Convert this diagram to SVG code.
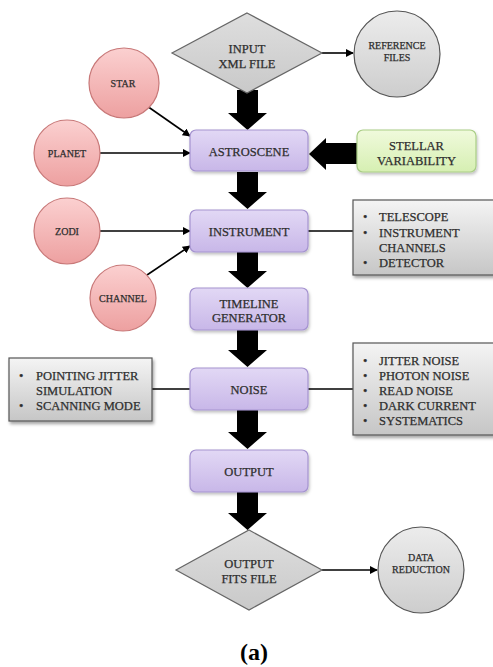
<svg xmlns="http://www.w3.org/2000/svg" width="493" height="667" viewBox="0 0 493 667">
<style>
  .t { font-family: "Liberation Serif", "Times New Roman", serif; fill: #2e2e2e; stroke: #2e2e2e; stroke-width: 0.25; font-size: 12.5px; text-anchor: middle; }
  .s { font-size: 10px; }
  .l { text-anchor: start; }
  .box { fill: url(#gPurple); stroke: #a593d0; stroke-width: 1.2; filter: url(#sh); }
  .red { fill: url(#gRed); stroke: #c87878; stroke-width: 1.2; }
  .gc { fill: url(#gGrayC); stroke: #555; stroke-width: 1.2; }
  .gb { fill: url(#gGrayB); stroke: #555; stroke-width: 1.2; filter: url(#sh2); }
  .dia { fill: url(#gDia); stroke: #666; stroke-width: 1.2; }
  .big { fill: #000; }
  .thin { stroke: #000; stroke-width: 1.6; fill: none; }
  .arr { marker-end: url(#ah); }
</style>
<defs>
  <linearGradient id="gPurple" x1="0" y1="0" x2="0" y2="1">
    <stop offset="0" stop-color="#e2d8f5"/><stop offset="1" stop-color="#c8b7e8"/>
  </linearGradient>
  <linearGradient id="gRed" x1="0" y1="0" x2="0" y2="1">
    <stop offset="0" stop-color="#fbd0d0"/><stop offset="1" stop-color="#eda0a0"/>
  </linearGradient>
  <linearGradient id="gGrayC" x1="0" y1="0" x2="0" y2="1">
    <stop offset="0" stop-color="#ececec"/><stop offset="1" stop-color="#cdcdcd"/>
  </linearGradient>
  <linearGradient id="gGrayB" x1="0" y1="0" x2="0" y2="1">
    <stop offset="0" stop-color="#f4f4f4"/><stop offset="1" stop-color="#c6c6c6"/>
  </linearGradient>
  <linearGradient id="gDia" x1="0" y1="0" x2="0" y2="1">
    <stop offset="0" stop-color="#dedede"/><stop offset="1" stop-color="#c9c9c9"/>
  </linearGradient>
  <linearGradient id="gGreen" x1="0" y1="0" x2="0" y2="1">
    <stop offset="0" stop-color="#f0fadc"/><stop offset="1" stop-color="#d6efb2"/>
  </linearGradient>
  <filter id="sh" x="-10%" y="-20%" width="130%" height="150%">
    <feDropShadow dx="1" dy="2" stdDeviation="1.5" flood-color="#000" flood-opacity="0.25"/>
  </filter>
  <filter id="sh2" x="-10%" y="-20%" width="130%" height="150%">
    <feDropShadow dx="1.5" dy="2.5" stdDeviation="1.5" flood-color="#000" flood-opacity="0.35"/>
  </filter>
  <marker id="ah" viewBox="0 0 10 10" refX="9" refY="5" markerWidth="5" markerHeight="5" orient="auto" markerUnits="strokeWidth">
    <path d="M0,0 L10,5 L0,10 z" fill="#000"/>
  </marker>
</defs>
<rect width="493" height="667" fill="#fff"/>

<g id="connectors">
  <line class="thin arr" x1="322" y1="53" x2="353" y2="53"/>
  <line class="thin arr" x1="147" y1="106" x2="190" y2="136"/>
  <line class="thin arr" x1="100" y1="153" x2="190" y2="153"/>
  <line class="thin arr" x1="100" y1="231" x2="190" y2="231"/>
  <line class="thin arr" x1="147" y1="275" x2="190" y2="246"/>
  <line class="thin" x1="308" y1="231" x2="353" y2="231"/>
  <line class="thin" x1="152" y1="389" x2="190" y2="389"/>
  <line class="thin" x1="308" y1="389" x2="353" y2="389"/>
  <line class="thin arr" x1="322" y1="570" x2="377" y2="570"/>
  <polygon class="big" points="237,90 258,90 258,113 267,113 247.5,130 228,113 237,113"/>
  <polygon class="big" points="237,172 258,172 258,192 267,192 247.5,209 228,192 237,192"/>
  <polygon class="big" points="237,252 258,252 258,271 267,271 247.5,288 228,271 237,271"/>
  <polygon class="big" points="237,330 258,330 258,350 267,350 247.5,367 228,350 237,350"/>
  <polygon class="big" points="237,410 258,410 258,432 267,432 247.5,449 228,432 237,432"/>
  <polygon class="big" points="237,492 258,492 258,513 267,513 247.5,530 228,513 237,513"/>
  <polygon class="big" points="357,143 326,143 326,138 309,154 326,170 326,164 357,164"/>
</g>

<g id="input-xml">
  <polygon class="dia" points="247,13 322,53 247,93 172,53"/>
  <text class="t" x="247" y="52.5">INPUT</text>
  <text class="t" x="247" y="67.5">XML FILE</text>
</g>
<g id="reference-files">
  <circle class="gc" cx="397" cy="54" r="43"/>
  <text class="t s" x="397" y="49">REFERENCE</text>
  <text class="t s" x="397" y="61">FILES</text>
</g>
<g id="star">
  <circle class="red" cx="124" cy="83" r="35"/>
  <text class="t s" x="123" y="86.5">STAR</text>
</g>
<g id="planet">
  <circle class="red" cx="67" cy="153" r="33"/>
  <text class="t s" x="67" y="156.5">PLANET</text>
</g>
<g id="astroscene">
  <rect class="box" x="190" y="130" width="118" height="41" rx="6"/>
  <text class="t" x="249" y="155.5">ASTROSCENE</text>
</g>
<g id="stellar-variability">
  <rect x="357" y="130" width="119" height="42" rx="6" fill="url(#gGreen)" stroke="#a9cd85" stroke-width="1.2" filter="url(#sh)"/>
  <text class="t" x="416.5" y="149.5">STELLAR</text>
  <text class="t" x="416.5" y="164.5">VARIABILITY</text>
</g>
<g id="zodi">
  <circle class="red" cx="67" cy="231" r="33"/>
  <text class="t s" x="67" y="234.5">ZODI</text>
</g>
<g id="channel">
  <circle class="red" cx="123" cy="298" r="33"/>
  <text class="t s" x="123" y="301.5">CHANNEL</text>
</g>
<g id="instrument">
  <rect class="box" x="190" y="210" width="118" height="42" rx="6"/>
  <text class="t" x="249" y="235.5">INSTRUMENT</text>
</g>
<g id="instrument-details">
  <rect class="gb" x="353" y="200" width="150" height="75"/>
  <text class="t l" x="363" y="220.5">•</text>
  <text class="t l" x="379" y="220.5">TELESCOPE</text>
  <text class="t l" x="363" y="236.5">•</text>
  <text class="t l" x="379" y="236.5">INSTRUMENT</text>
  <text class="t l" x="379" y="251.5">CHANNELS</text>
  <text class="t l" x="363" y="266.5">•</text>
  <text class="t l" x="379" y="266.5">DETECTOR</text>
</g>
<g id="timeline-generator">
  <rect class="box" x="190" y="288" width="118" height="42" rx="6"/>
  <text class="t" x="249" y="307.5">TIMELINE</text>
  <text class="t" x="249" y="321.5">GENERATOR</text>
</g>
<g id="noise">
  <rect class="box" x="190" y="368" width="118" height="42" rx="6"/>
  <text class="t" x="249" y="393.5">NOISE</text>
</g>
<g id="pointing-details">
  <rect class="gb" x="9" y="358" width="143" height="63"/>
  <text class="t l" x="19" y="379.5">•</text>
  <text class="t l" x="36" y="379.5">POINTING JITTER</text>
  <text class="t l" x="36" y="394.5">SIMULATION</text>
  <text class="t l" x="19" y="409.5">•</text>
  <text class="t l" x="36" y="409.5">SCANNING MODE</text>
</g>
<g id="noise-details">
  <rect class="gb" x="353" y="343" width="150" height="92"/>
  <text class="t l" x="363" y="364.5">•</text>
  <text class="t l" x="379" y="364.5">JITTER NOISE</text>
  <text class="t l" x="363" y="380">•</text>
  <text class="t l" x="379" y="380">PHOTON NOISE</text>
  <text class="t l" x="363" y="394.5">•</text>
  <text class="t l" x="379" y="394.5">READ NOISE</text>
  <text class="t l" x="363" y="410">•</text>
  <text class="t l" x="379" y="410">DARK CURRENT</text>
  <text class="t l" x="363" y="425">•</text>
  <text class="t l" x="379" y="425">SYSTEMATICS</text>
</g>
<g id="output">
  <rect class="box" x="190" y="450" width="118" height="42" rx="6"/>
  <text class="t" x="249" y="475.5">OUTPUT</text>
</g>
<g id="output-fits">
  <polygon class="dia" points="249,530 322,570 249,610 176,570"/>
  <text class="t" x="249" y="567.5">OUTPUT</text>
  <text class="t" x="249" y="582.5">FITS FILE</text>
</g>
<g id="data-reduction">
  <circle class="gc" cx="421" cy="570" r="43"/>
  <text class="t s" x="421" y="561">DATA</text>
  <text class="t s" x="421" y="573">REDUCTION</text>
</g>
<text x="254" y="660" font-family="Liberation Serif, serif" font-weight="bold" font-size="24" text-anchor="middle" fill="#000">(a)</text>
</svg>
